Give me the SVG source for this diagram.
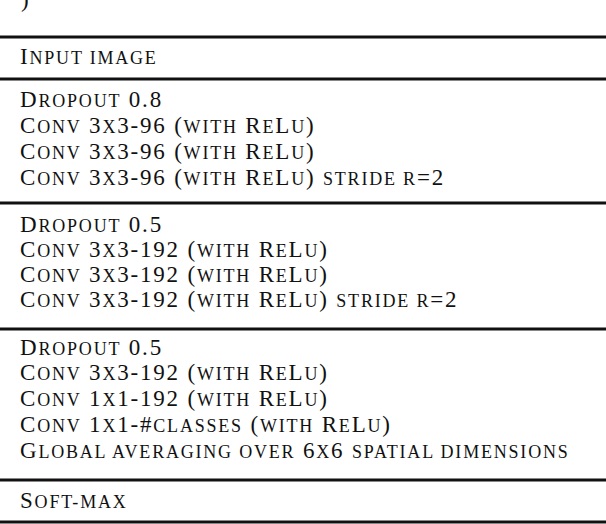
<svg xmlns="http://www.w3.org/2000/svg" width="606" height="524" viewBox="0 0 606 524">
<style>
text{font-family:"Liberation Serif",serif;font-size:23px;fill:#111;letter-spacing:1.8px}
.s{font-size:18px}
line{stroke:#111;stroke-width:3}
</style>
<rect width="606" height="524" fill="#fff"/>
<text x="21" y="7">)</text>
<g id="rules">
<line x1="0" y1="37" x2="606" y2="37"/>
<line x1="0" y1="79" x2="606" y2="79"/>
<line x1="0" y1="203" x2="606" y2="203"/>
<line x1="0" y1="329" x2="606" y2="329"/>
<line x1="0" y1="480" x2="606" y2="480"/>
<line x1="0" y1="522" x2="606" y2="522"/>
</g>
<g id="header"><text x="20" y="64">I<tspan class="s">NPUT IMAGE</tspan></text></g>
<g id="block1">
<text x="20" y="107">D<tspan class="s">ROPOUT</tspan> 0.8</text>
<text x="20" y="133">C<tspan class="s">ONV</tspan> 3<tspan class="s">X</tspan>3-96 (<tspan class="s">WITH</tspan> R<tspan class="s">E</tspan>L<tspan class="s">U</tspan>)</text>
<text x="20" y="159">C<tspan class="s">ONV</tspan> 3<tspan class="s">X</tspan>3-96 (<tspan class="s">WITH</tspan> R<tspan class="s">E</tspan>L<tspan class="s">U</tspan>)</text>
<text x="20" y="185">C<tspan class="s">ONV</tspan> 3<tspan class="s">X</tspan>3-96 (<tspan class="s">WITH</tspan> R<tspan class="s">E</tspan>L<tspan class="s">U</tspan>) <tspan class="s">STRIDE R</tspan>=2</text>
</g>
<g id="block2">
<text x="20" y="232">D<tspan class="s">ROPOUT</tspan> 0.5</text>
<text x="20" y="257">C<tspan class="s">ONV</tspan> 3<tspan class="s">X</tspan>3-192 (<tspan class="s">WITH</tspan> R<tspan class="s">E</tspan>L<tspan class="s">U</tspan>)</text>
<text x="20" y="282">C<tspan class="s">ONV</tspan> 3<tspan class="s">X</tspan>3-192 (<tspan class="s">WITH</tspan> R<tspan class="s">E</tspan>L<tspan class="s">U</tspan>)</text>
<text x="20" y="307">C<tspan class="s">ONV</tspan> 3<tspan class="s">X</tspan>3-192 (<tspan class="s">WITH</tspan> R<tspan class="s">E</tspan>L<tspan class="s">U</tspan>) <tspan class="s">STRIDE R</tspan>=2</text>
</g>
<g id="block3">
<text x="20" y="355">D<tspan class="s">ROPOUT</tspan> 0.5</text>
<text x="20" y="380">C<tspan class="s">ONV</tspan> 3<tspan class="s">X</tspan>3-192 (<tspan class="s">WITH</tspan> R<tspan class="s">E</tspan>L<tspan class="s">U</tspan>)</text>
<text x="20" y="406">C<tspan class="s">ONV</tspan> 1<tspan class="s">X</tspan>1-192 (<tspan class="s">WITH</tspan> R<tspan class="s">E</tspan>L<tspan class="s">U</tspan>)</text>
<text x="20" y="432">C<tspan class="s">ONV</tspan> 1<tspan class="s">X</tspan>1-#<tspan class="s">CLASSES</tspan> (<tspan class="s">WITH</tspan> R<tspan class="s">E</tspan>L<tspan class="s">U</tspan>)</text>
<text x="20" y="458">G<tspan class="s">LOBAL AVERAGING OVER</tspan> 6<tspan class="s">X</tspan>6 <tspan class="s">SPATIAL DIMENSIONS</tspan></text>
</g>
<g id="footer"><text x="20" y="508">S<tspan class="s">OFT-MAX</tspan></text></g>
</svg>
